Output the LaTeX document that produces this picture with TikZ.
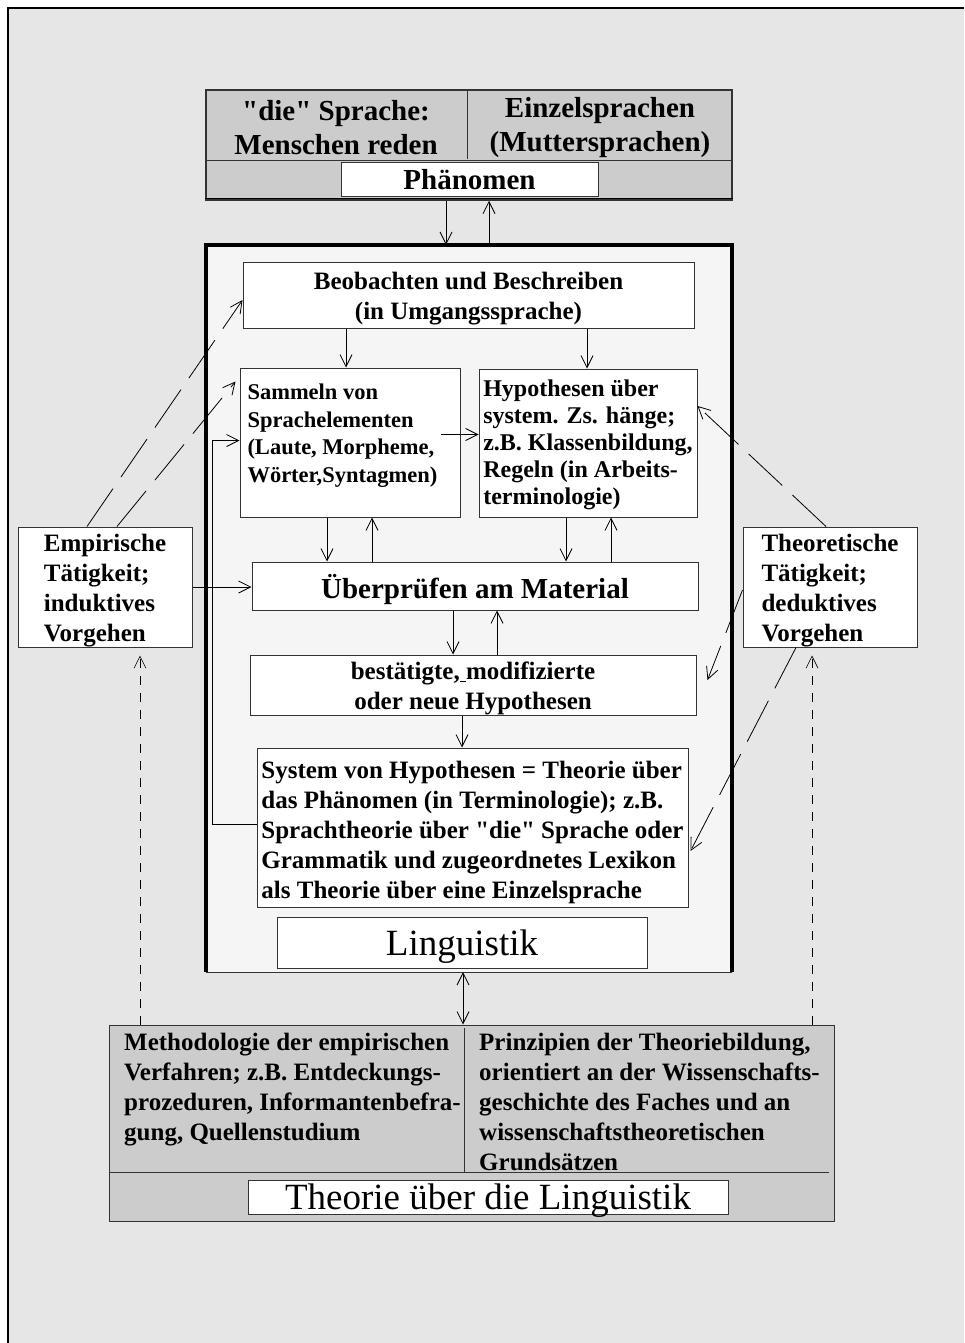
\documentclass[tikz,border=0pt]{standalone}
\usepackage{fontspec}
\setmainfont{Liberation Serif}
\newfontfamily\rawserif{Liberation Serif}
\usetikzlibrary{arrows.meta,positioning,calc}
\definecolor{Back}{HTML}{E6E6E6}
\definecolor{Panel}{HTML}{CCCCCC}
\definecolor{Inner}{HTML}{F5F5F5}
\definecolor{Line}{HTML}{333333}
\newcommand{\dq}{{\rawserif"}}
\newcommand{\lo}[1]{\rule{0pt}{#1}}
\newcommand{\fH}{\fontsize{29}{34}\selectfont\bfseries}
\newcommand{\fM}{\fontsize{25}{30}\selectfont\bfseries}
\newcommand{\fS}{\fontsize{22.5}{27.5}\selectfont\bfseries}
\newcommand{\fT}{\fontsize{24}{27}\selectfont\bfseries}
\newcommand{\fL}{\fontsize{37}{42}\selectfont}
\begin{document}
\begin{tikzpicture}[x=1pt,y=-1pt,
 b/.style={draw=Line,fill=white,line width=1pt,inner sep=2pt},
 a/.style={-{Straight Barb[length=12pt,width=12pt]},line width=0.8pt},
 a2/.style={{Straight Barb[length=12pt,width=12pt]}-{Straight Barb[length=12pt,width=12pt]},line width=0.8pt},
 ad/.style={a,dash pattern=on 46pt off 14pt},
 av/.style={a,dash pattern=on 9pt off 8pt,line width=0.6pt}
]
\useasboundingbox (0,0) rectangle (964,1343);
\fill[Back] (8,8) rectangle (964,1343);
\draw[line width=2pt] (8,1343) -- (8,8) -- (964,8);
% Phaenomen
\node[draw=black!80,fill=Panel,line width=1.5pt,minimum width=526pt,minimum height=110pt] (phen) at (469,145) {};
\draw[Line] ([yshift=-15pt]phen.west) -- ([yshift=-15pt]phen.east);
\draw[Line] ([xshift=-2pt]phen.north) -- ([xshift=-2pt,yshift=-70pt]phen.north);
\draw[line width=1.5pt] ([yshift=2pt]phen.south west) -- ([yshift=2pt]phen.south east);
\node[font=\fH,align=center] (dieSpr) at (336,128) {\dq die\dq{} Sprache:\\Menschen reden};
\node[font=\fH,align=center] (einzel) at (600,128) {Einzelsprachen\\(Muttersprachen)};
\node[b,font=\fH,minimum width=257pt,minimum height=34pt,inner sep=0pt] (phenLbl) at (469.5,180) {Phänomen};
% Linguistik
\node[fill=Inner,minimum width=526pt,minimum height=727pt] (ling) at (469,608.5) {};
\draw[Line] (ling.south west) -- (ling.south east);
\draw[line width=3.5pt] (ling.south west) -- (ling.north west) -- (ling.north east) -- (ling.south east);
\node[b,font=\fM,align=center,minimum width=451pt,minimum height=66pt] (beob) at (468.5,295) {\lo{25pt}Beobachten und Beschreiben\\(in Umgangssprache)};
\node[b,font=\fS,minimum width=220pt,minimum height=149pt,inner sep=0pt] (samm) at (350,442.5) {\parbox[c][117pt][t]{205pt}{Sammeln von\\Sprachelementen\\(Laute, Morpheme,\\Wörter,Syntagmen)}};
\node[b,font=\fT,align=left,minimum width=218pt,minimum height=148pt,inner sep=0pt] (hyp) at (588,443) {\lo{21pt}Hypothesen über\\system. Zs. hänge;\\z.B. Klassenbildung,\\Regeln (in Arbeits-\\terminologie)};
\node[b,font=\fH,minimum width=446pt,minimum height=48pt,text depth=0pt] (pruef) at (475,586) {Überprüfen am Material};
\node[b,font=\fM,align=center,minimum width=446pt,minimum height=60pt,inner ysep=0pt] (best) at (473,685) {\lo{24pt}bestätigte,\underline{\ }modifizierte\\oder neue Hypothesen};
\node[b,font=\fM,align=left,minimum width=431pt,minimum height=159pt,inner sep=1pt] (sys) at (472.5,827.5) {\lo{27pt}System von Hypothesen = Theorie über\\das Phänomen (in Terminologie); z.B.\\Sprachtheorie über \dq die\dq{} Sprache oder\\Grammatik und zugeordnetes Lexikon\\als Theorie über eine Einzelsprache};
\node[b,font=\fL,minimum width=370pt,minimum height=51pt,inner sep=0pt,text depth=0pt] (lingLbl) at (462,942.5) {Linguistik};
% Taetigkeiten
\node[b,font=\fM,align=left,minimum width=174pt,minimum height=120pt,inner ysep=0pt] (emp) at (105,587) {\lo{24pt}Empirische\\Tätigkeit;\\induktives\\Vorgehen};
\node[b,font=\fM,align=left,minimum width=174pt,minimum height=120pt,inner ysep=0pt] (theo) at (830,587) {\lo{24pt}Theoretische\\Tätigkeit;\\deduktives\\Vorgehen};
% Theorie ueber die Linguistik
\node[draw=Line,fill=Panel,line width=1pt,minimum width=725pt,minimum height=196pt] (meta) at (471.5,1123) {};
\draw[Line] ([yshift=-49pt]meta.west) -- ([xshift=-6pt,yshift=-49pt]meta.east);
\draw[Line] ([xshift=-7pt,yshift=-3pt]meta.north) -- ++(0,144);
\node[font=\fM,align=left,anchor=north west,inner sep=0pt] (meth) at (124,1033) {Methodologie der empirischen\\Verfahren; z.B. Entdeckungs-\\prozeduren, Informantenbefra-\\gung, Quellenstudium};
\node[font=\fM,align=left,anchor=north west,inner sep=0pt] (prinz) at (479,1033) {Prinzipien der Theoriebildung,\\orientiert an der Wissenschafts-\\geschichte des Faches und an\\wissenschaftstheoretischen\\Grundsätzen};
\node[b,font=\fL,minimum width=480pt,minimum height=34pt,inner sep=0pt,text depth=0pt] (metaLbl) at (488,1197) {Theorie über die Linguistik};
% arrows
\draw[a] ([xshift=-23pt]phen.south) -- ([xshift=-23pt]phen.south |- ling.north);
\draw[a] ([xshift=20pt]ling.north) -- ([xshift=20pt]ling.north |- phen.south);
\draw[a] ([xshift=-122.5pt]beob.south) -- ([xshift=-122.5pt]beob.south |- samm.north);
\draw[a] ([xshift=118.5pt]beob.south) -- ([xshift=118.5pt]beob.south |- hyp.north);
\draw[a] ([xshift=-20pt,yshift=8pt]samm.east) -- ([yshift=8pt]samm.east -| hyp.west);
\draw[a] ([xshift=-23pt]samm.south) -- ([xshift=-23pt]samm.south |- pruef.north);
\draw[a] ([xshift=22pt]samm.south |- pruef.north) -- ([xshift=22pt]samm.south);
\draw[a] ([xshift=-22pt]hyp.south) -- ([xshift=-22pt]hyp.south |- pruef.north);
\draw[a] ([xshift=23pt]hyp.south |- pruef.north) -- ([xshift=23pt]hyp.south);
\draw[a] ([xshift=-22pt]pruef.south) -- ([xshift=-22pt]pruef.south |- best.north);
\draw[a] ([xshift=22pt]pruef.south |- best.north) -- ([xshift=22pt]pruef.south);
\draw[a] ([xshift=-11pt]best.south) -- ([xshift=-11pt]best.south |- sys.north);
\draw[a] ([yshift=3pt]sys.west) -- ++(-44,0) |- ([yshift=2pt]samm.west);
\draw[a] (emp.east) -- (emp.east -| pruef.west);
\draw[a2] ([xshift=-6pt]ling.south) -- ([xshift=-6pt]ling.south |- meta.north);
\draw[ad] ([xshift=-18pt]emp.north) -- ([yshift=-5pt]beob.west);
\draw[ad] ([xshift=12pt]emp.north) -- ([shift={(-4pt,-14pt)}]samm.north west);
\draw[ad] ([xshift=-4pt]theo.north) -- ([yshift=37pt]hyp.east);
\draw[ad] ([yshift=-3pt]theo.west) -- ([shift={(11pt,5pt)}]best.east);
\draw[ad] ([xshift=-34pt]theo.south) -- ([shift={(2pt,-23.5pt)}]sys.east);
\draw[av] ([xshift=35pt]emp.south |- meta.north) -- ([xshift=35pt,yshift=-8pt]emp.south);
\draw[av] ([xshift=-18pt]theo.south |- meta.north) -- ([xshift=-18pt,yshift=-8pt]theo.south);
\end{tikzpicture}
\end{document}
